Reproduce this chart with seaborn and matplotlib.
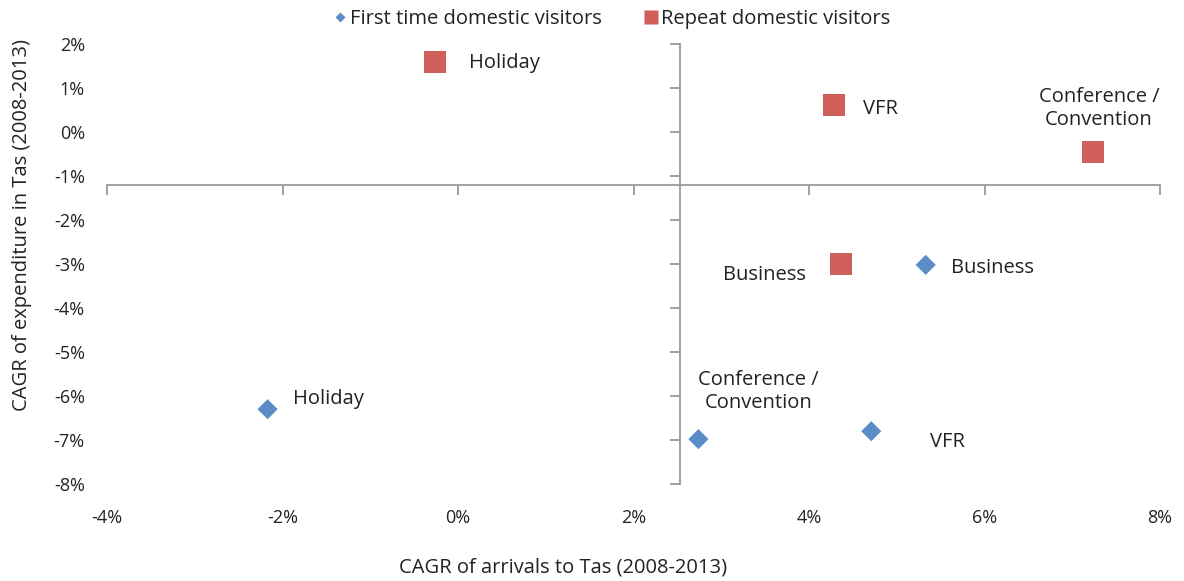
import matplotlib
matplotlib.use("Agg")
import matplotlib.pyplot as plt
import seaborn as sns
import pandas as pd
from matplotlib.lines import Line2D
from matplotlib.ticker import FuncFormatter, MultipleLocator

# Compound annual growth rates, 2008-2013 (in %)
purposes = ["Holiday", "VFR", "Conference /\nConvention", "Business"]
first_arrivals = [-2.17, 4.71, 2.74, 5.33]
first_expenditure = [-6.30, -6.80, -6.98, -3.02]
repeat_arrivals = [-0.26, 4.28, 7.24, 4.36]
repeat_expenditure = [1.59, 0.61, -0.45, -3.00]

series_names = ["First time domestic visitors", "Repeat domestic visitors"]
x_ticks = [-4, -2, 0, 2, 4, 6, 8]
y_ticks = [2, 1, 0, -1, -2, -3, -4, -5, -6, -7, -8]

df = pd.concat([
    pd.DataFrame({"purpose": purposes, "arrivals": first_arrivals,
                  "expenditure": first_expenditure, "segment": series_names[0]}),
    pd.DataFrame({"purpose": purposes, "arrivals": repeat_arrivals,
                  "expenditure": repeat_expenditure, "segment": series_names[1]}),
], ignore_index=True)

sns.set_style("white")
plt.rcParams["font.family"] = ["Open Sans", "DejaVu Sans"]

BLUE = "#5A8DC8"
RED = "#CF5F58"
AXIS = "#9A9A9A"
TEXT = "#222222"

fig = plt.figure(figsize=(11.84, 5.81), dpi=100)
ax = fig.add_axes([107 / 1184, 1 - 484 / 581, (1160 - 107) / 1184, 440 / 581])

sns.scatterplot(data=df[df.segment == series_names[0]], x="arrivals", y="expenditure",
                marker="D", s=105, color=BLUE, edgecolor="none", ax=ax, legend=False)
sns.scatterplot(data=df[df.segment == series_names[1]], x="arrivals", y="expenditure",
                marker="s", s=250, color=RED, edgecolor="none", ax=ax, legend=False)

ax.set_xlim(x_ticks[0], x_ticks[-1])
ax.set_ylim(y_ticks[-1], y_ticks[0])
ax.set_xlabel("")
ax.set_ylabel("")

# Axis lines cross inside the plot; tick labels stay on the outer edges
cross_x, cross_y = 2.53, -1.2
for side in ("top", "right"):
    ax.spines[side].set_visible(False)
ax.spines["left"].set_position(("data", cross_x))
ax.spines["bottom"].set_position(("data", cross_y))
for side in ("left", "bottom"):
    ax.spines[side].set_color(AXIS)
    ax.spines[side].set_linewidth(1.3)
ax.xaxis.set_major_locator(MultipleLocator(2))
ax.yaxis.set_major_locator(MultipleLocator(1))
ax.tick_params(axis="both", direction="out", length=7, width=1.3, color=AXIS,
               labelleft=False, labelbottom=False, left=True, bottom=True)

pct = FuncFormatter(lambda v, _: f"{v:.0f}%")
sec_y = ax.secondary_yaxis("left")
sec_y.spines["left"].set_visible(False)
sec_y.set_yticks(y_ticks)
sec_y.yaxis.set_major_formatter(pct)
sec_y.tick_params(length=0, pad=16, labelsize=13, labelcolor=TEXT)

sec_x = ax.secondary_xaxis("bottom")
sec_x.spines["bottom"].set_visible(False)
sec_x.set_xticks(x_ticks)
sec_x.xaxis.set_major_formatter(pct)
sec_x.tick_params(length=0, pad=18, labelsize=13, labelcolor=TEXT)

# Point labels
label_kw = dict(textcoords="offset points", fontsize=14.5, color=TEXT)
first_offsets = [((18, 7), "left", "center"), ((42, -8), "left", "center"),
                 ((43, 19), "center", "bottom"), ((18, -2), "left", "center")]
repeat_offsets = [((24, -1), "left", "center"), ((21, -3), "left", "center"),
                  ((4, 16), "center", "bottom"), ((-25, -8), "right", "center")]
for i, name in enumerate(purposes):
    (dx, dy), ha, va = first_offsets[i]
    ax.annotate(name, (first_arrivals[i], first_expenditure[i]), xytext=(dx, dy),
                ha=ha, va=va, multialignment="center", linespacing=1.2, **label_kw)
    (dx, dy), ha, va = repeat_offsets[i]
    ax.annotate(name, (repeat_arrivals[i], repeat_expenditure[i]), xytext=(dx, dy),
                ha=ha, va=va, multialignment="center", linespacing=1.2, **label_kw)

fig.text(22 / 1184, 1 - 225 / 581, "CAGR of expenditure in Tas (2008-2013)",
         rotation=90, ha="center", va="center", fontsize=14.5, color=TEXT)
fig.text(563 / 1184, 1 - 568 / 581, "CAGR of arrivals to Tas (2008-2013)",
         ha="center", va="center", fontsize=14.5, color=TEXT)

handles = [
    Line2D([], [], marker="D", linestyle="none", markersize=5.5, color=BLUE,
           markeredgecolor="none", label=series_names[0]),
    Line2D([], [], marker="s", linestyle="none", markersize=10, color=RED,
           markeredgecolor="none", label=series_names[1]),
]
fig.legend(handles=handles, loc="center", bbox_to_anchor=(611 / 1184, 1 - 19 / 581),
           ncol=2, frameon=False, fontsize=14.5, handletextpad=0.1,
           columnspacing=2.0, handlelength=0.8, labelcolor=TEXT)

fig.savefig("out.png", dpi=100)
